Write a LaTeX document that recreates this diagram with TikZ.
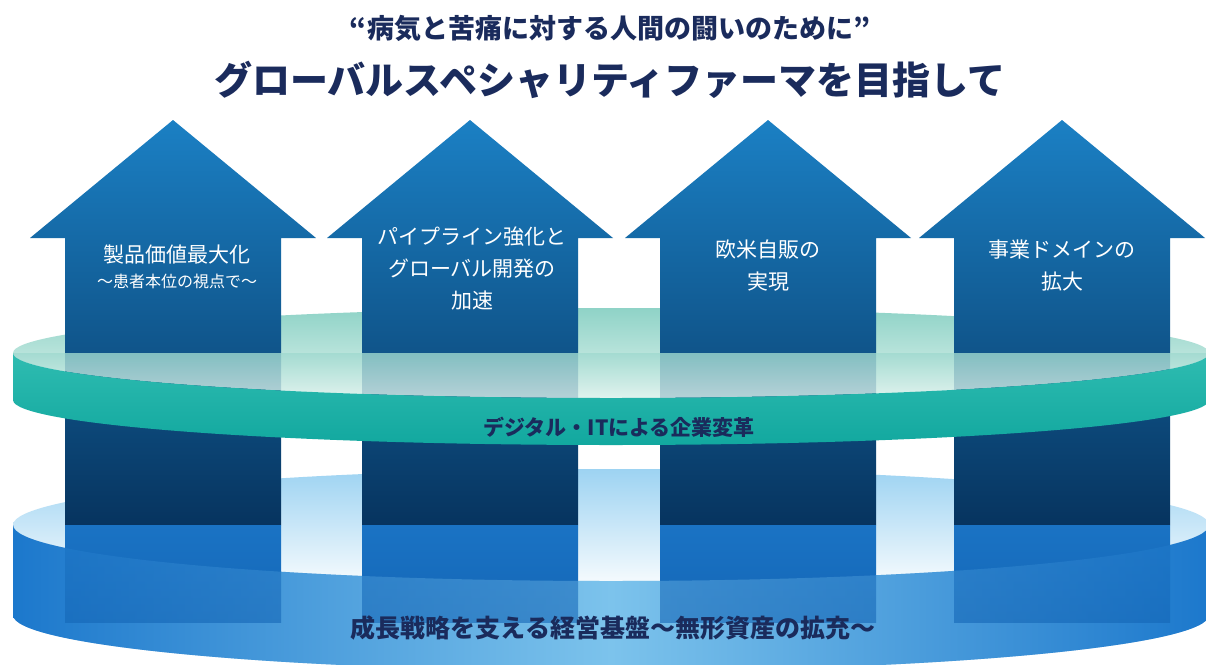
\documentclass[tikz,border=0pt]{standalone}
\usepackage{fontspec}
\setmainfont{Noto Sans CJK JP}
\usetikzlibrary{positioning}
\definecolor{navy}{HTML}{1A2B5C}
\definecolor{arrtop}{HTML}{1B80C4}
\definecolor{arrmid}{HTML}{0B4176}
\definecolor{arrbot}{HTML}{07345F}
\definecolor{tealback}{HTML}{8FD3C7}
\definecolor{tealfront}{HTML}{E0F3EE}
\definecolor{tealband}{HTML}{2FBCB1}
\definecolor{tealdark}{HTML}{12A89F}
\definecolor{skyback}{HTML}{9DD3F2}
\definecolor{skyfront}{HTML}{F4FAFD}
\definecolor{baseblue}{HTML}{1C78CC}
\definecolor{baselight}{HTML}{7CC3EC}
\definecolor{shaftblue}{HTML}{1A73C4}
\definecolor{shaftblue2}{HTML}{1466B6}
\begin{document}
\begin{tikzpicture}[x=1pt, y=-1pt, node distance=2pt,
  ttl/.style = {text=navy, font=\bfseries\fontsize{27}{30}\selectfont},
  big/.style = {text=navy, font=\bfseries\fontsize{38}{44}\selectfont},
  lab/.style = {text=white, align=center, font=\fontsize{21}{32}\selectfont},
  sub/.style = {text=white, font=\fontsize{16}{20}\selectfont},
  disc/.style = {text=navy, font=\bfseries\fontsize{21}{26}\selectfont},
  base/.style = {text=navy, font=\bfseries\fontsize{25}{30}\selectfont}]
\useasboundingbox (0,0) rectangle (1206,664);
\fill[white] (0,0) rectangle (1206,664);

% lower disc
\shade[top color=skyback, bottom color=skyfront] (611,525) ellipse [x radius=598pt, y radius=56pt];
\shade[left color=baseblue, right color=baseblue, middle color=baselight]
  (13,525) arc[start angle=180, end angle=360, x radius=598pt, y radius=56pt]
  -- (1209,615) arc[start angle=0, end angle=-180, x radius=598pt, y radius=56pt] -- cycle;

% upper disc, top
\shade[top color=tealback, bottom color=tealfront] (611,353) ellipse [x radius=598pt, y radius=45pt];

% arrows
\foreach \c in {173,470,768,1062}{
  \shade[top color=arrtop, middle color=arrmid, bottom color=arrbot]
    (\c-108,525) -- (\c-108,238) -- (\c-143,238) -- (\c,120) -- (\c+143,238)
    -- (\c+108,238) -- (\c+108,525) -- cycle;
  \shade[top color=shaftblue, bottom color=shaftblue2] (\c-108,525) rectangle (\c+108,622);
}

% upper disc, front
\shade[top color=tealback!85!white, bottom color=tealfront, opacity=.8]
  (13,353) arc[start angle=180, end angle=360, x radius=598pt, y radius=45pt] -- cycle;
\shade[top color=tealband, bottom color=tealdark]
  (13,353) arc[start angle=180, end angle=360, x radius=598pt, y radius=45pt]
  -- (1209,400) arc[start angle=0, end angle=-180, x radius=598pt, y radius=45pt] -- cycle;

% lower disc, front
\shade[left color=baseblue, right color=baseblue, middle color=baselight, opacity=.4]
  (13,525) arc[start angle=180, end angle=360, x radius=598pt, y radius=56pt]
  -- (1209,615) arc[start angle=0, end angle=-180, x radius=598pt, y radius=56pt] -- cycle;

\node[ttl] (t1) at (610,28) {“病気と苦痛に対する人間の闘いのために”};
\node[big] (t2) at (610,80) {グローバルスペシャリティファーマを目指して};
\node[lab] (a1) at (177,255) {製品価値最大化};
\node[sub] (s1) [below=of a1] {〜患者本位の視点で〜};
\node[lab] (a2) at (472,268) {パイプライン強化と\\グローバル開発の\\加速};
\node[lab] (a3) at (768,266) {欧米自販の\\実現};
\node[lab] (a4) at (1062,266) {事業ドメインの\\拡大};
\node[disc] (d) at (619,427) {デジタル・ITによる企業変革};
\node[base] (b) at (613,628) {成長戦略を支える経営基盤〜無形資産の拡充〜};
\end{tikzpicture}
\end{document}
